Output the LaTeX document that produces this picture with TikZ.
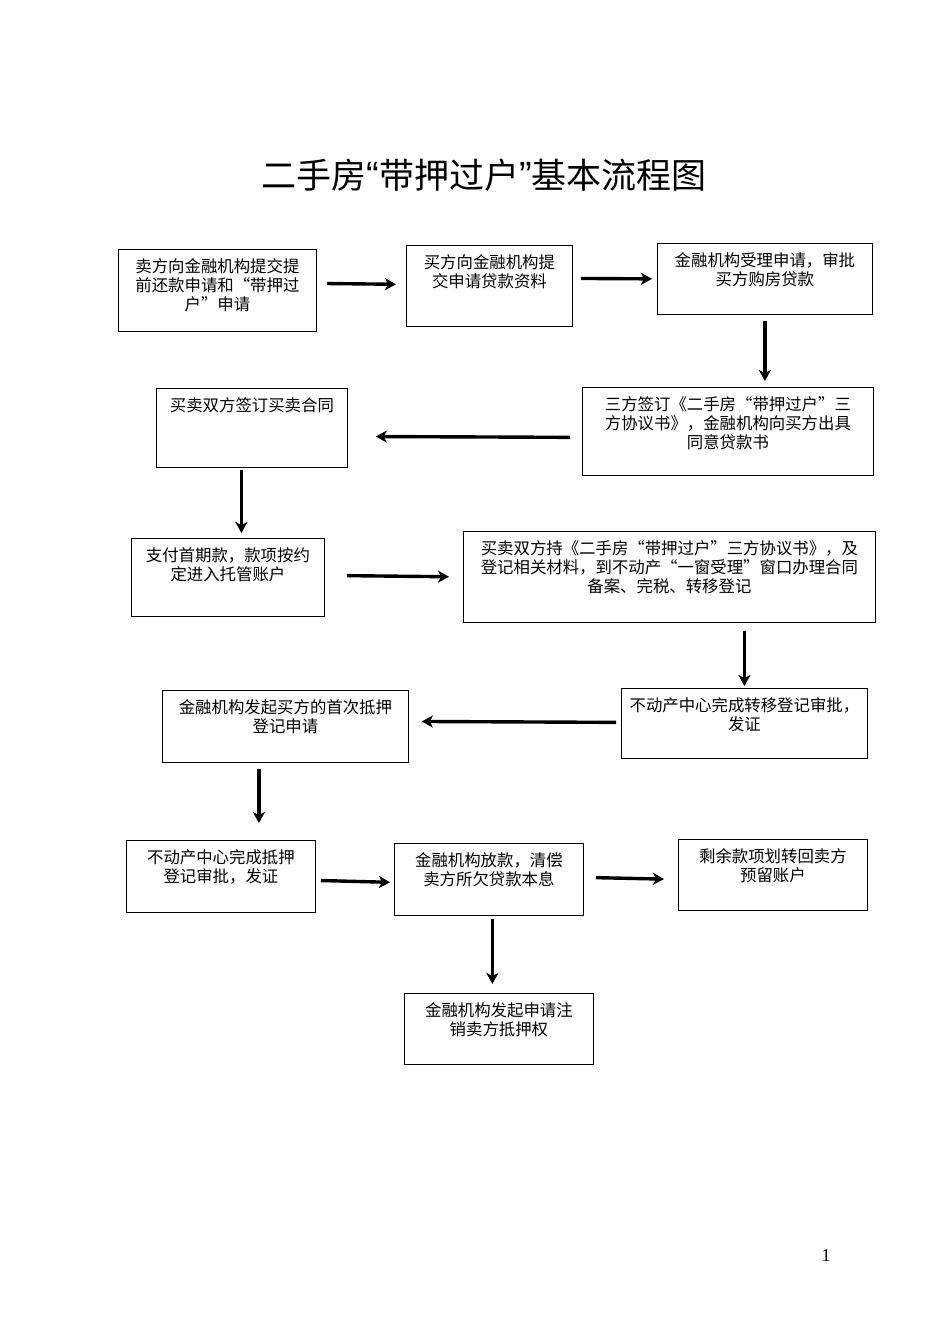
\documentclass[tikz,border=0pt]{standalone}
\usepackage{fontspec}
\setmainfont{Noto Sans CJK SC}
\newfontfamily\numfont{Liberation Serif}
\newfontfamily\quotefont{Liberation Sans}
\usepackage{tikz}
\usetikzlibrary{arrows.meta}
\usetikzlibrary{positioning}
\tikzset{
    stage/.style={
           rectangle,
           draw=black, line width=0.8pt,
           inner sep=0pt,
           anchor=north west,
           font=\fontsize{16.4}{19}\selectfont,
           },
    flow/.style={
           -{Stealth[length=11pt,width=12pt,inset=3pt]},
           line width=3.4pt,
           },
}
% box text: width, height, lines (kept near the top of the box)
\newcommand{\stagetxt}[3]{\parbox[c][#2pt][t]{#1pt}{\vspace*{9pt}\centering #3\par}}

\begin{document}
\begin{tikzpicture}[x=1pt,y=-1pt]
	\useasboundingbox (0,0) rectangle (950,1344);

	\node (title) at (484,175) {\fontsize{35}{40}\selectfont 二手房{\quotefont\fontsize{38}{40}\selectfont “}带押过户{\quotefont\fontsize{38}{40}\selectfont ”}基本流程图};

	\node[stage] (A) at (118,249) {\stagetxt{198}{82}{卖方向金融机构提交提\\前还款申请和“带押过\\户”申请}};
	\node[stage] (B) at (406,245) {\stagetxt{166}{81}{买方向金融机构提\\交申请贷款资料}};
	\node[stage] (C) at (657,243) {\stagetxt{215}{71}{金融机构受理申请，审批\\买方购房贷款}};
	\node[stage] (D) at (582,387) {\stagetxt{291}{88}{三方签订《二手房“带押过户”三\\方协议书》，金融机构向买方出具\\同意贷款书}};
	\node[stage] (E) at (156,388) {\stagetxt{191}{79}{买卖双方签订买卖合同}};
	\node[stage] (F) at (131,538) {\stagetxt{193}{78}{支付首期款，款项按约\\定进入托管账户}};
	\node[stage] (G) at (463,531) {\stagetxt{412}{91}{买卖双方持《二手房“带押过户”三方协议书》，及\\登记相关材料，到不动产“一窗受理”窗口办理合同\\备案、完税、转移登记}};
	\node[stage] (H) at (621,688) {\stagetxt{246}{70}{不动产中心完成转移登记审批，\\发证}};
	\node[stage] (I) at (162,690) {\stagetxt{246}{72}{金融机构发起买方的首次抵押\\登记申请}};
	\node[stage] (J) at (126,840) {\stagetxt{189}{72}{不动产中心完成抵押\\登记审批，发证}};
	\node[stage] (K) at (394,843) {\stagetxt{189}{72}{金融机构放款，清偿\\卖方所欠贷款本息}};
	\node[stage] (L) at (678,839) {\stagetxt{189}{71}{剩余款项划转回卖方\\预留账户}};
	\node[stage] (M) at (404,993) {\stagetxt{189}{71}{金融机构发起申请注\\销卖方抵押权}};

	\node (pagenum) at (826,1256) {\numfont\fontsize{18}{20}\selectfont 1};

	% connectors
	\draw[flow, shorten <=10pt, shorten >=10pt] ([yshift=7]A.east) -- ([yshift=1.5]B.west);
	\draw[flow, shorten <=8pt, shorten >=5pt] ([yshift=7.5]B.east) -- (C.west);
	\draw[flow, shorten <=6pt, shorten >=6pt] (C.south) -- (C.south |- D.north);
	\draw[flow, shorten <=12pt, shorten >=28pt] ([yshift=-6]D.west) -- ([yshift=-8.5]E.east);
	\draw[flow, shorten <=2pt, shorten >=5pt] ([xshift=-10.5]E.south) -- ([xshift=-10.5]E.south |- F.north);
	\draw[flow, shorten <=22pt, shorten >=14pt] ([yshift=2]F.east) -- (G.west);
	\draw[flow, shorten <=8pt, shorten >=2pt] (H.north |- G.south) -- (H.north);
	\draw[flow, shorten <=5pt, shorten >=13pt] ([yshift=1]H.west) -- ([yshift=5]I.east);
	\draw[flow, shorten <=6pt, shorten >=17pt] ([xshift=-26.5]I.south) -- ([xshift=-26.5]I.south |- J.north);
	\draw[flow, shorten <=5pt, shorten >=4pt] ([yshift=-4]J.east) -- ([yshift=-3]K.west);
	\draw[flow, shorten <=12pt, shorten >=14pt] ([yshift=2]K.east) -- ([yshift=-4.5]L.west);
	\draw[flow, shorten <=3pt, shorten >=9pt] ([xshift=3.5]K.south) -- ([xshift=3.5]K.south |- M.north);
\end{tikzpicture}
\end{document}
